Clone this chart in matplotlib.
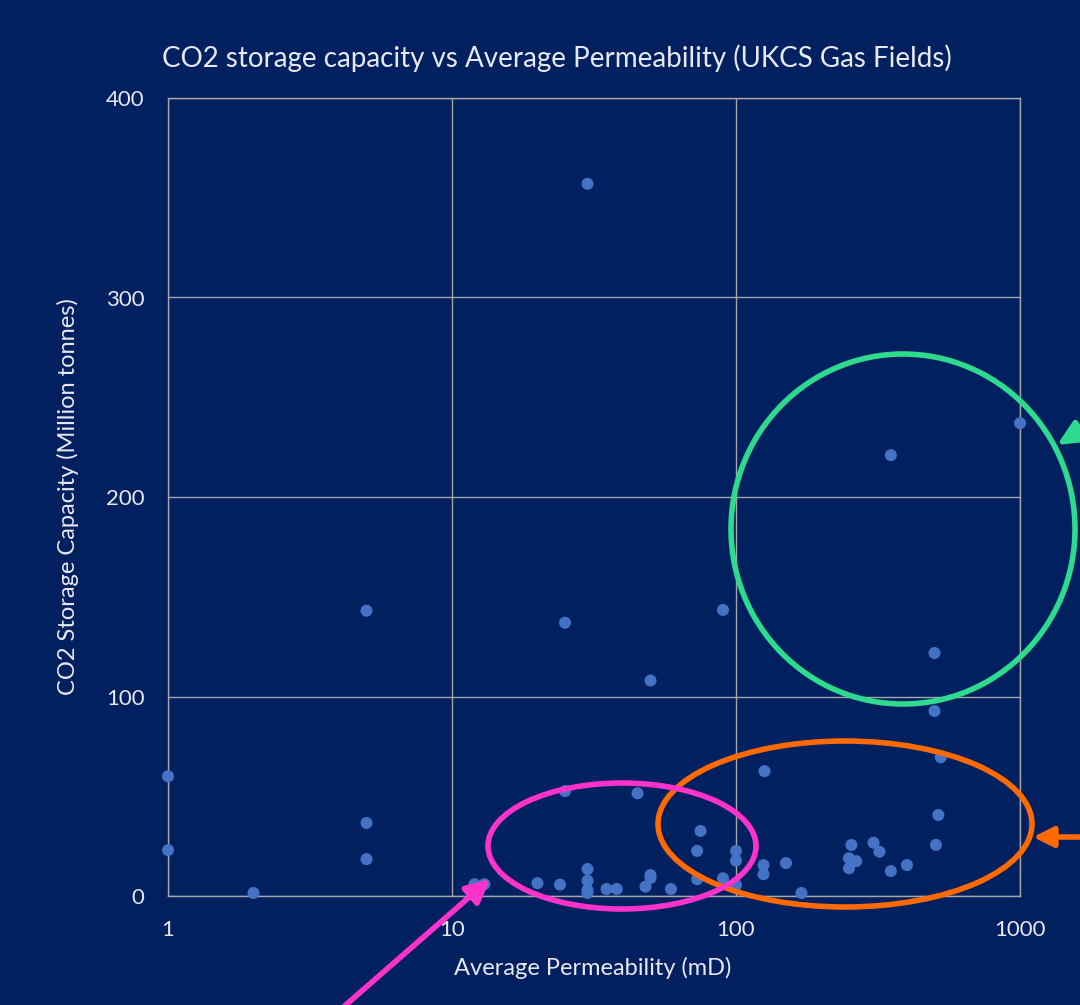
import matplotlib
matplotlib.use("Agg")
import matplotlib.pyplot as plt
from matplotlib.patches import Ellipse, FancyArrowPatch

# UKCS gas fields: average permeability (mD) and CO2 storage capacity (Mt)
permeability = [1, 1, 2, 5, 5, 5,
                12, 13, 20, 24, 25, 25, 30, 30, 30, 30, 30,
                35, 38, 45, 48, 50, 50, 50, 59,
                73, 73, 75, 90, 90, 100, 100, 100,
                125, 125, 126, 150, 170,
                250, 250, 255, 265, 305, 320, 351, 351, 400,
                500, 500, 506, 516, 526, 1000]
capacity = [60, 23, 1.5, 143, 36.6, 18.5,
            5.9, 5.9, 6.4, 5.7, 137, 52.6, 357, 13.5, 7.7, 3, 1.5,
            3.5, 3.5, 51.5, 4.7, 108, 10.5, 9, 3.5,
            22.6, 8.4, 32.6, 143.4, 8.9, 22.6, 17.7, 5.5,
            15.5, 10.9, 62.6, 16.5, 1.5,
            18.9, 13.9, 25.6, 17.5, 26.7, 22.2, 12.5, 221, 15.5,
            121.8, 92.7, 25.6, 40.6, 69.5, 237]

x_ticks = [1, 10, 100, 1000]
x_tick_labels = ["1", "10", "100", "1000"]
y_ticks = [0, 100, 200, 300, 400]

BG = "#002060"
DOT = "#4472C4"
GRID = "#A6A6A6"
TXT = "#E8E8F0"

plt.rcParams["font.family"] = ["Lato", "DejaVu Sans"]

W, H = 1080, 1005
fig = plt.figure(figsize=(W / 100, H / 100), dpi=100, facecolor=BG)
ax = fig.add_axes([168 / W, 1 - 896 / H, (1020 - 168) / W, (896 - 98) / H])
ax.set_facecolor(BG)

ax.set_xscale("log")
ax.set_xlim(1, 1000)
ax.set_ylim(0, 400)
ax.set_xticks(x_ticks)
ax.set_xticklabels(x_tick_labels)
ax.minorticks_off()
ax.set_yticks(y_ticks)
ax.grid(True, color=GRID, linewidth=1.0)
ax.set_axisbelow(True)
for s in ax.spines.values():
    s.set_color(GRID)
    s.set_linewidth(1.0)
ax.tick_params(colors=TXT, labelsize=16, length=0)
ax.tick_params(axis="x", pad=17)
ax.tick_params(axis="y", pad=17)
for lab in ax.get_xticklabels() + ax.get_yticklabels():
    lab.set_color(TXT)

ax.scatter(permeability, capacity, s=75, color=DOT, zorder=3,
           edgecolors="none", clip_on=False)


def fx(px):
    return px / W


def fy(py):
    return 1 - py / H


fig.text(fx(593), fy(968), "Average Permeability (mD)", color=TXT,
         fontsize=17, ha="center", va="center")
fig.text(fx(68), fy(497), "CO2 Storage Capacity (Million tonnes)", color=TXT,
         fontsize=17, ha="center", va="center", rotation=90)
fig.text(fx(557), fy(58),
         "CO2 storage capacity vs Average Permeability (UKCS Gas Fields)",
         color=TXT, fontsize=20, ha="center", va="center")

# Highlight groups of fields
groups = [
    ((903, 529), 344, 350, "#2EDB8E"),
    ((845, 824), 374, 166, "#FF6A00"),
    ((622, 846), 268, 126, "#FF33CC"),
]
for (cx, cy), w, h, col in groups:
    fig.patches.append(Ellipse((fx(cx), fy(cy)), w / W, h / H,
                               transform=fig.transFigure, fill=False,
                               edgecolor=col, linewidth=4, zorder=5))

arrows = [
    ((1100, 419), (1057, 445), "#2EDB8E", 15, 7),
    ((1100, 837), (1033, 837), "#FF6A00", 12, 6),
    ((340, 1010), (490, 879), "#FF33CC", 14, 7),
]
for (x0, y0), (x1, y1), col, hl, hw in arrows:
    fig.patches.append(FancyArrowPatch((fx(x0), fy(y0)), (fx(x1), fy(y1)),
                                       transform=fig.transFigure,
                                       arrowstyle=f"-|>,head_length={hl},head_width={hw}",
                                       mutation_scale=1, color=col,
                                       linewidth=4, zorder=6,
                                       shrinkA=0, shrinkB=0))

fig.savefig("out.png", dpi=100, facecolor=BG)
